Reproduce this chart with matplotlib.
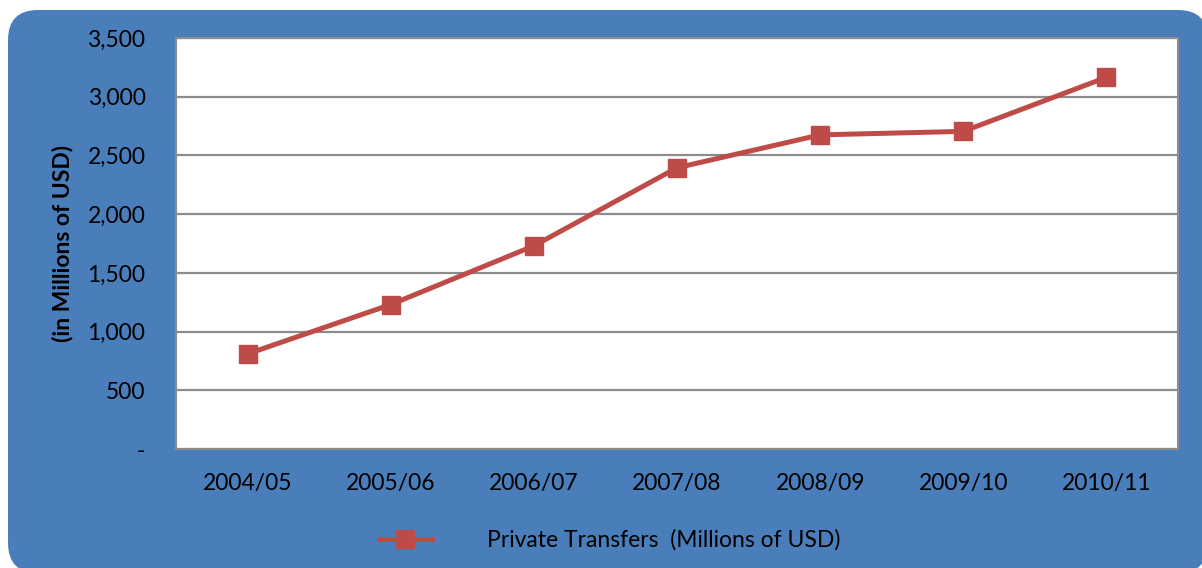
import matplotlib
matplotlib.use("Agg")
import matplotlib.pyplot as plt
from matplotlib.patches import FancyBboxPatch
from matplotlib.ticker import FuncFormatter

# Private transfers by fiscal year, millions of USD
years = ["2004/05", "2005/06", "2006/07", "2007/08", "2008/09", "2009/10", "2010/11"]
transfers = [810, 1230, 1730, 2395, 2675, 2705, 3165]
series_label = "Private Transfers  (Millions of USD)"
y_label = "(in Millions of USD)"
y_ticks = [0, 500, 1000, 1500, 2000, 2500, 3000, 3500]

BLUE = "#4A7EBB"
RED = "#BE4B48"
GRID = "#8C8C8C"
FS = 16.5

plt.rcParams["font.family"] = ["Lato", "DejaVu Sans"]

fig = plt.figure(figsize=(12.02, 5.68), dpi=100)

# rounded blue chart area behind everything
panel = FancyBboxPatch((0.08, -0.05), 12.0, 5.63,
                       boxstyle="round,pad=0,rounding_size=0.3",
                       transform=fig.dpi_scale_trans,
                       facecolor=BLUE, edgecolor="none", zorder=-10)
fig.patches.append(panel)

ax = fig.add_axes([176 / 1202, 1 - 449 / 568, (1178 - 176) / 1202, (449 - 38) / 568])
ax.set_facecolor("white")

x = range(len(years))
ax.plot(x, transfers, color=RED, linewidth=3.6, marker="s", markersize=12.5,
        markerfacecolor=RED, markeredgecolor=RED, label=series_label, zorder=3)

ax.set_xlim(-0.5, len(years) - 0.5)
ax.set_ylim(0, 3500)
ax.set_xticks(list(x))
ax.set_xticklabels(years)
ax.set_yticks(y_ticks)
ax.yaxis.set_major_formatter(FuncFormatter(lambda v, p: "-" if v == 0 else f"{int(v):,}"))

ax.grid(axis="y", color=GRID, linewidth=1.6)
ax.set_axisbelow(True)
for s in ax.spines.values():
    s.set_color(GRID)
    s.set_linewidth(1.5)

ax.tick_params(axis="x", length=0, pad=17, labelsize=FS, colors="black")
ax.tick_params(axis="y", direction="in", length=4, color=GRID, pad=22,
               labelsize=FS, labelcolor="black")

ax.set_ylabel(y_label, fontsize=FS, fontweight="bold", labelpad=10)

leg = fig.legend(loc="center", bbox_to_anchor=(0.507, 0.049), frameon=False,
                 fontsize=FS, handlelength=2.3, handletextpad=2.4)

fig.savefig("out.png", dpi=100)
